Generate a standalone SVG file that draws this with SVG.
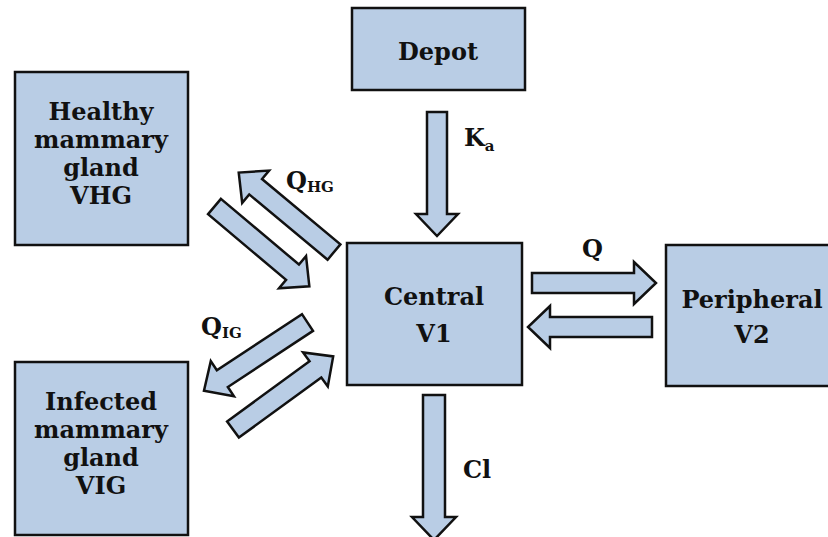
<svg xmlns="http://www.w3.org/2000/svg" width="828" height="537" viewBox="0 0 828 537">
<style>
.box{fill:#b9cde5;stroke:#111;stroke-width:2.5}
.arr{fill:#b9cde5;stroke:#111;stroke-width:2.5;stroke-linejoin:miter}
.t{font-family:"DejaVu Serif","Liberation Serif",serif;font-weight:bold;font-size:24px;fill:#111;text-anchor:middle}
.lbl{font-family:"DejaVu Serif","Liberation Serif",serif;font-weight:bold;font-size:24px;fill:#111}
.sub{font-size:15px}
</style>
<defs>
<path id="a124" d="M0,-10 H102 V-21 L124,0 L102,21 V10 H0 Z"/>
<path id="a145" d="M0,-11 H122 V-22 L145,0 L122,22 V11 H0 Z"/>
</defs>
<rect width="828" height="537" fill="#fff"/>
<g id="healthy">
<rect class="box" x="15" y="72" width="173" height="173"/>
<text class="t" x="101" y="120">Healthy</text>
<text class="t" x="101" y="148">mammary</text>
<text class="t" x="101" y="176">gland</text>
<text class="t" x="101" y="204">VHG</text>
</g>
<g id="infected">
<rect class="box" x="15" y="362" width="173" height="173"/>
<text class="t" x="101" y="410">Infected</text>
<text class="t" x="101" y="438">mammary</text>
<text class="t" x="101" y="466">gland</text>
<text class="t" x="101" y="494">VIG</text>
</g>
<g id="depot">
<rect class="box" x="352" y="8" width="173" height="82"/>
<text class="t" x="438" y="60">Depot</text>
</g>
<g id="central">
<rect class="box" x="347" y="243" width="175" height="142"/>
<text class="t" x="434" y="305">Central</text>
<text class="t" x="434" y="342">V1</text>
</g>
<g id="peripheral">
<rect class="box" x="666" y="245" width="175" height="141"/>
<text class="t" x="752" y="308">Peripheral</text>
<text class="t" x="752" y="343">V2</text>
</g>
<g id="connectors">
<use href="#a124" class="arr" transform="translate(437,112) rotate(90)"/>
<use href="#a145" class="arr" transform="translate(434,395) rotate(90)"/>
<use href="#a124" class="arr" transform="translate(532,283)"/>
<use href="#a124" class="arr" transform="translate(652,327) rotate(180)"/>
<use href="#a124" class="arr" transform="translate(334,252) rotate(219.8)"/>
<use href="#a124" class="arr" transform="translate(214.5,206.5) rotate(40.1)"/>
<use href="#a124" class="arr" transform="translate(307.5,322.5) rotate(146.6)"/>
<use href="#a124" class="arr" transform="translate(233,429.5) rotate(-36.1)"/>
</g>
<g id="labels">
<text class="lbl" x="464" y="146">K<tspan class="sub" dy="5">a</tspan></text>
<text class="lbl" x="286" y="189">Q<tspan class="sub" dy="3">HG</tspan></text>
<text class="lbl" x="201" y="335">Q<tspan class="sub" dy="3">IG</tspan></text>
<text class="lbl" x="582" y="257">Q</text>
<text class="lbl" x="463" y="478">Cl</text>
</g>
</svg>
